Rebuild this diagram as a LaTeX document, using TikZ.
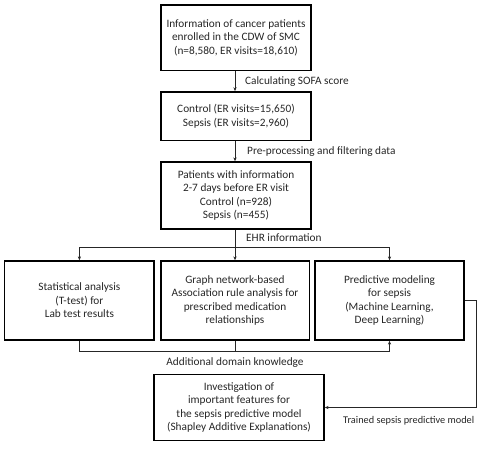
\documentclass[tikz,border=0pt]{standalone}
\usepackage{fontspec}
\setmainfont{Carlito}
\usetikzlibrary{arrows.meta}
\begin{document}
\begin{tikzpicture}[x=1pt,y=-1pt,
  box/.style={draw=black,line width=1.3pt,inner sep=0pt,align=center,
    font=\fontsize{11.3pt}{13.4pt}\selectfont,text=black!85},
  lbl/.style={inner sep=0pt,font=\fontsize{11.3pt}{13.4pt}\selectfont,text=black!85},
  conn/.style={draw=black!85,line width=0.8pt},
  arr/.style={conn,-{Stealth[length=4pt,width=3.2pt]}}]
\useasboundingbox (0,0) rectangle (489,448);
\node[box,minimum width=150pt,minimum height=65.7pt] (top) at (236,37.8)
  {Information of cancer patients\\enrolled in the CDW of SMC\\(n=8,580, ER visits=18,610)};
\node[box,minimum width=150pt,minimum height=48.7pt] (control) at (236,116.2)
  {Control (ER visits=15,650)\\Sepsis (ER visits=2,960)};
\node[box,minimum width=150pt,minimum height=67pt] (patients) at (236,195.5)
  {Patients with information\\2-7 days before ER visit\\Control (n=928)\\Sepsis (n=455)};
\node[box,minimum width=149.3pt,minimum height=79pt] (b1) at (79.4,300.5)
  {Statistical analysis\\(T-test) for\\Lab test results};
\node[box,minimum width=148.3pt,minimum height=79pt] (b2) at (235,300.5)
  {Graph network-based\\Association rule analysis for\\prescribed medication\\relationships};
\node[box,minimum width=149pt,minimum height=79pt] (b3) at (389.5,300.5)
  {Predictive modeling\\for sepsis\\(Machine Learning,\\Deep Learning)};
\node[box,minimum width=170pt,minimum height=66pt] (bottom) at (239,407.5)
  {Investigation of\\important features for\\the sepsis predictive model\\(Shapley Additive Explanations)};

\coordinate (hub) at (235,247);
\coordinate (low) at (235,351.7);
\coordinate (rt) at (476.5,300.5);
\coordinate (rb) at (476.5,407.5);

\draw[arr] (top.south -| 235,0) -- (control.north -| 235,0);
\draw[arr] (control.south -| 235,0) -- (patients.north -| 235,0);
\draw[arr] (patients.south -| b2.north) -- (b2.north);
\draw[arr] (hub) -| (b1.north);
\draw[arr] (hub) -| (b3.north);
\draw[conn] (b2.south) -- (low);
\draw[arr] (b1.south) |- (low) -| (b3.south);
\draw[arr] (b3.east) -- (rt) -- (rb) -- (bottom.east);

\node[lbl,anchor=west] (l1) at (245,82) {Calculating SOFA score};
\node[lbl,anchor=west] (l2) at (247,152) {Pre-processing and filtering data};
\node[lbl,anchor=west] (l3) at (246,238) {EHR information};
\node[lbl] (l4) at (235,363) {Additional domain knowledge};
\node[lbl,anchor=west,font=\fontsize{10.3pt}{12pt}\selectfont] (l5) at (343,420.5) {Trained sepsis predictive model};
\end{tikzpicture}
\end{document}
